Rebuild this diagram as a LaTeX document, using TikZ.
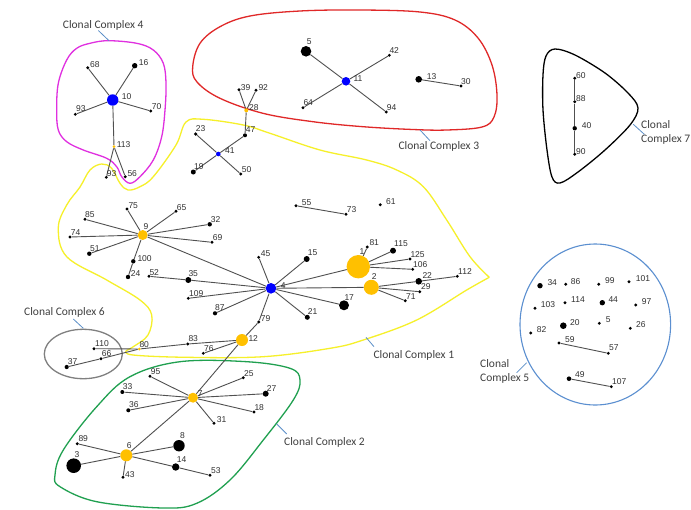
\documentclass[tikz,border=0pt]{standalone}
\usepackage{fontspec}
\setmainfont{Liberation Sans}
\newfontfamily\ccfont{Carlito}
\definecolor{orng}{HTML}{FFC000}
\definecolor{blu}{HTML}{0000FF}
\definecolor{edgec}{HTML}{505050}
\definecolor{numc}{HTML}{303030}
\definecolor{magc}{HTML}{E030E0}
\definecolor{redc}{HTML}{E02828}
\definecolor{yelc}{HTML}{F6F02A}
\definecolor{grnc}{HTML}{20A050}
\definecolor{grayc}{HTML}{808080}
\definecolor{cc5c}{HTML}{5B8FD0}
\definecolor{leadc}{HTML}{5B8FC8}
\definecolor{ccc}{HTML}{404040}
\newcommand\dotnode[5]{\node[dotst, minimum size=#4pt, fill=#5] (n#1) at (#2,#3) {};}
\newcommand\numlab[4]{\node[numst] (l#1) at (#2,#3) {#4};}
\tikzset{
  dotst/.style={circle, inner sep=0pt, draw=none},
  numst/.style={anchor=base west, inner sep=0pt, font=\fontsize{8.5}{10}\selectfont, text=numc},
  edgest/.style={draw=edgec, line width=0.9pt},
  ccst/.style={anchor=base west, inner sep=0pt, font=\ccfont\fontsize{11.5}{14}\selectfont, text=ccc, align=left},
  leadst/.style={draw=leadc, line width=0.8pt},
  hull/.style={line width=1.3pt}
}
\begin{document}
\begin{tikzpicture}[x=1pt,y=-1pt]
\path[use as bounding box, fill=white] (0,0) rectangle (691,509);
% ---- hulls ----
\draw[hull, magc] plot[smooth cycle, tension=0.6] coordinates {(90,43.3) (108.3,40.7) (136.7,43.3) (153.3,50) (163.3,63.3) (166,83.3) (165,110) (161.7,136.7) (153.3,160) (140,176.7) (130,183.3) (121.7,176.7) (116.7,166.7) (106.7,158.3) (83.3,150) (66.7,141.7) (58.3,130) (56.7,110) (58.3,83.3) (66.7,60) (76.7,48.3)};
\draw[hull, redc] plot[smooth cycle, tension=0.6] coordinates {(192.7,66.7) (200,43.3) (220,26.7) (250,16) (300,11) (360,10) (420,12) (455,20) (478,38) (492,65) (497,95) (494,117) (482,127) (447,130) (413,129.5) (363,126.7) (313,121.7) (263,113.3) (220,98.3) (197,82)};
\draw[hull, yelc] plot[smooth, tension=0.6] coordinates {(489.3,277.3) (470,256.7) (446.7,220) (423.3,186.7) (396.7,170) (366.7,160) (320,150) (270,133.3) (243.3,125) (203.3,119.3) (186,122) (176,145) (153.3,176.7) (140,186.7) (128,190) (120,183.3) (111.7,168.3) (101.7,164) (90,170) (80,187) (66.7,205) (58.3,228) (66.7,256.7) (106.7,280) (140,300) (151.7,315) (148,335) (133.3,346.7) (126,350.7)};
\draw[hull, yelc] plot[smooth, tension=0.6] coordinates {(126,350.7) (133,355) (186.7,357.3) (263.3,356.7) (330,348.3) (363.3,340) (416.7,320) (466.7,290) (489.3,277.3)};
\draw[hull, grnc] plot[smooth cycle, tension=0.6] coordinates {(55,475) (63.3,450) (96.7,406.7) (130,376.7) (180,361.7) (246.7,361.7) (290,368.3) (300,380) (293.3,400) (263.3,440) (230,480) (196.7,503.3) (163.3,508) (96.7,501.7) (60,486.7)};
\draw[hull, black] plot[smooth cycle, tension=0.55] coordinates {(546,56) (555,49) (575,55) (605,73) (628,93) (638,108) (630,125) (605,150) (578,172) (560,183) (552,177) (547,150) (543,110) (543,75)};
\draw[hull, grayc] (83.3,354) ellipse [x radius=39, y radius=24.7];
\draw[hull, cc5c, line width=1.1pt] (595.3,324.5) ellipse [x radius=75.3, y radius=80.5];
% ---- CC labels and leaders ----
\node[ccst] (cc4) at (62.7,28.3) {Clonal Complex 4};
\coordinate (cc4a) at (98.3,30.5); \coordinate (cc4b) at (109,40.7);
\draw[leadst] (cc4a) -- (cc4b);
\node[ccst] (cc3) at (398.3,149.3) {Clonal Complex 3};
\coordinate (cc3a) at (420,130); \coordinate (cc3b) at (430,140.7);
\draw[leadst] (cc3a) -- (cc3b);
\node[ccst] (cc7) at (641,142.3) {Clonal\\[-0.5pt]Complex 7};
\coordinate (cc7a) at (633.3,124.3); \coordinate (cc7b) at (644.3,134.3);
\draw[leadst] (cc7a) -- (cc7b);
\node[ccst] (cc1) at (373.3,358.3) {Clonal Complex 1};
\coordinate (cc1a) at (366,337.3); \coordinate (cc1b) at (374,346.7);
\draw[leadst] (cc1a) -- (cc1b);
\node[ccst] (cc6) at (24,315) {Clonal Complex 6};
\coordinate (cc6a) at (73.3,319); \coordinate (cc6b) at (83.3,328.3);
\draw[leadst] (cc6a) -- (cc6b);
\node[ccst] (cc2) at (284,445) {Clonal Complex 2};
\coordinate (cc2a) at (276.7,424); \coordinate (cc2b) at (286.7,434);
\draw[leadst] (cc2a) -- (cc2b);
\node[ccst] (cc5) at (480,381.7) {Clonal\\[0.5pt]Complex 5};
\coordinate (cc5a) at (526.7,362.7); \coordinate (cc5b) at (516.7,372.7);
\draw[leadst] (cc5a) -- (cc5b);
% ---- dots ----
% CC4
\dotnode{10}{112.7}{100}{11.4}{blu}
\dotnode{68}{87.7}{67.7}{3.2}{black}
\dotnode{16}{134.7}{65.7}{5.4}{black}
\dotnode{93a}{75.3}{114.3}{3.2}{black}
\dotnode{70}{150.7}{111}{3.2}{black}
\dotnode{113}{114}{146.7}{3}{orng}
\dotnode{93b}{106.3}{177.3}{3.2}{black}
\dotnode{56}{125.3}{176.7}{3.2}{black}
% CC3
\dotnode{5a}{306}{51.3}{10.6}{black}
\dotnode{11}{346}{81.3}{8.6}{blu}
\dotnode{42}{389.3}{55.3}{3.2}{black}
\dotnode{64}{303}{107.7}{3.2}{black}
\dotnode{94}{386.3}{112}{3.2}{black}
\dotnode{13}{418.7}{79.3}{6.6}{black}
\dotnode{30}{461}{86}{3.2}{black}
\dotnode{39}{239}{89.7}{3.2}{black}
\dotnode{92}{256}{90.3}{3.2}{black}
\dotnode{28}{246.3}{110.3}{4}{orng}
\dotnode{47}{245}{135.3}{4}{black}
\dotnode{23}{195.7}{134}{3.6}{black}
\dotnode{41}{218.3}{154}{4.6}{blu}
\dotnode{19}{193.3}{172}{5}{black}
\dotnode{50}{240.7}{174}{3.2}{black}
% CC7
\dotnode{60}{574.7}{78.3}{3.2}{black}
\dotnode{88}{574.7}{101.7}{3.2}{black}
\dotnode{40}{574.7}{128.3}{4.4}{black}
\dotnode{90}{574.7}{154.3}{3.2}{black}
% CC1
\dotnode{9}{142.7}{235}{10}{orng}
\dotnode{75}{127}{209}{3.2}{black}
\dotnode{65}{176}{211.3}{3.2}{black}
\dotnode{85}{85}{219.3}{3.2}{black}
\dotnode{32}{209.7}{224.3}{4.4}{black}
\dotnode{74}{70}{237}{3.2}{black}
\dotnode{69}{212}{242.3}{3.2}{black}
\dotnode{51}{89.3}{253.7}{4.4}{black}
\dotnode{100}{133.3}{261.3}{4.4}{black}
\dotnode{24}{128}{277}{4.4}{black}
\dotnode{52}{149}{276.3}{3.2}{black}
\dotnode{35}{188.3}{280}{6}{black}
\dotnode{109}{188.3}{298.3}{3.2}{black}
\dotnode{87}{215}{313.3}{4.2}{black}
\dotnode{4}{271}{288.3}{10.6}{blu}
\dotnode{45}{258.7}{257.3}{3.2}{black}
\dotnode{15}{306.7}{259}{6}{black}
\dotnode{1}{358.3}{266.7}{23.4}{orng}
\dotnode{81}{367.3}{247}{3.2}{black}
\dotnode{115}{393}{250.7}{6}{black}
\dotnode{125}{410}{259}{3.2}{black}
\dotnode{106}{412.7}{269.3}{3.2}{black}
\dotnode{2}{371.3}{287.3}{15}{orng}
\dotnode{22}{418.7}{281.3}{6.6}{black}
\dotnode{112}{457.3}{276.3}{3.2}{black}
\dotnode{29}{419.7}{291.7}{3.2}{black}
\dotnode{71}{405.3}{300.7}{3.2}{black}
\dotnode{17}{344}{305.3}{10}{black}
\dotnode{21}{307.3}{317.3}{5}{black}
\dotnode{79}{258.7}{322}{3.2}{black}
\dotnode{12}{242}{340}{12}{orng}
\dotnode{55}{296}{205.7}{3.2}{black}
\dotnode{73}{346}{214.3}{3.2}{black}
\dotnode{61}{380.3}{204.7}{3.2}{black}
\dotnode{83}{187.7}{344}{3.2}{black}
\dotnode{76}{203.3}{353.3}{3.2}{black}
\dotnode{80}{139.3}{349}{3}{orng}
% CC6
\dotnode{110}{94}{348.7}{3.2}{black}
\dotnode{66}{101}{358.7}{3.2}{black}
\dotnode{37}{66.7}{367}{4.2}{black}
% CC2
\dotnode{7}{193}{397.7}{10}{orng}
\dotnode{95}{150}{376.3}{3.2}{black}
\dotnode{33}{122.3}{392}{4}{black}
\dotnode{36}{128.3}{410.3}{4}{black}
\dotnode{25}{243.3}{377.7}{3.2}{black}
\dotnode{27}{265.7}{393.7}{6}{black}
\dotnode{18}{254}{412}{3.2}{black}
\dotnode{31}{214}{423.3}{3.2}{black}
\dotnode{6}{126.3}{455.3}{12}{orng}
\dotnode{89}{77.3}{443.7}{3.2}{black}
\dotnode{3}{73.7}{465.7}{14.6}{black}
\dotnode{8}{179}{445.7}{11.4}{black}
\dotnode{14}{175.7}{467}{7.4}{black}
\dotnode{43}{123}{477.3}{3.2}{black}
\dotnode{53}{210}{475.3}{3.2}{black}
% CC5
\dotnode{34}{540}{285.7}{5.4}{black}
\dotnode{86}{565.7}{284.3}{3.2}{black}
\dotnode{99}{598.7}{284.3}{3.2}{black}
\dotnode{101}{629}{281.7}{3.2}{black}
\dotnode{103}{535}{308.3}{3.2}{black}
\dotnode{114}{565}{302.7}{3.2}{black}
\dotnode{44}{602.3}{302.7}{5.4}{black}
\dotnode{97}{635.7}{305}{3.2}{black}
\dotnode{82}{530.7}{333}{3.2}{black}
\dotnode{20}{563.3}{325.7}{6.6}{black}
\dotnode{5b}{599.3}{323.3}{3.2}{black}
\dotnode{26}{630.3}{328.3}{3.2}{black}
\dotnode{59}{559}{343}{3.2}{black}
\dotnode{57}{608.3}{353.3}{3.2}{black}
\dotnode{49}{569}{378.7}{4.6}{black}
\dotnode{107}{611.3}{386.7}{3.2}{black}
% ---- edges ----
\foreach \a/\b in {10/68,10/16,10/93a,10/70,10/113,113/93b,113/56,
  11/5a,11/42,11/64,11/94,13/30,28/39,28/92,28/47,47/41,41/23,41/19,41/50,
  60/88,88/40,40/90,
  9/75,9/65,9/85,9/32,9/74,9/69,9/51,9/100,100/24,9/4,52/35,35/4,109/4,87/4,
  4/45,4/15,4/1,4/2,4/17,4/21,4/79,79/12,1/81,1/115,1/125,1/106,2/22,22/112,2/29,2/71,55/73,
  12/83,83/80,80/110,80/66,66/37,12/76,12/7,
  7/95,7/33,7/36,7/25,7/27,7/18,7/31,7/6,6/89,6/3,6/8,6/14,14/53,6/43,
  59/57,49/107}
  \draw[edgest] (n\a) -- (n\b);
% ---- number labels ----
\numlab{10}{121.7}{99.3}{10}
\numlab{68}{90}{67.3}{68}
\numlab{16}{138.7}{65.7}{16}
\numlab{93a}{76}{111.7}{93}
\numlab{70}{151.7}{109}{70}
\numlab{113}{116.7}{147.3}{113}
\numlab{93b}{106.7}{176.7}{93}
\numlab{56}{127.3}{176.7}{56}
\numlab{5a}{306.7}{44.3}{5}
\numlab{42}{389.3}{53.3}{42}
\numlab{11}{353.3}{81.7}{11}
\numlab{64}{303.3}{105.7}{64}
\numlab{94}{386.7}{110}{94}
\numlab{13}{426.7}{79.3}{13}
\numlab{30}{461}{84}{30}
\numlab{39}{240.7}{90}{39}
\numlab{92}{258.3}{90.3}{92}
\numlab{28}{249}{110.7}{28}
\numlab{47}{245.7}{132.7}{47}
\numlab{23}{195.7}{131.7}{23}
\numlab{41}{225}{153.3}{41}
\numlab{19}{194}{169}{19}
\numlab{50}{241.7}{172.3}{50}
\numlab{60}{576}{78.3}{60}
\numlab{88}{576}{101.7}{88}
\numlab{40}{581.7}{128.3}{40}
\numlab{90}{576}{154.3}{90}
\numlab{75}{128.3}{208.3}{75}
\numlab{65}{176.7}{210}{65}
\numlab{85}{85}{217.3}{85}
\numlab{32}{210.7}{222.3}{32}
\numlab{74}{70.7}{235}{74}
\numlab{9}{143.3}{229.3}{9}
\numlab{69}{212.7}{240.7}{69}
\numlab{51}{90}{251}{51}
\numlab{100}{137.3}{261.7}{100}
\numlab{24}{130.7}{276.3}{24}
\numlab{52}{149.3}{275}{52}
\numlab{35}{188.3}{276}{35}
\numlab{109}{189}{296.7}{109}
\numlab{87}{215}{310.7}{87}
\numlab{55}{301.7}{205.7}{55}
\numlab{73}{346.7}{212.3}{73}
\numlab{61}{386}{204.3}{61}
\numlab{45}{260.7}{256.7}{45}
\numlab{15}{307.7}{255.7}{15}
\numlab{4}{280.7}{288.3}{4}
\numlab{1}{359.3}{254}{1}
\numlab{81}{369.3}{245.7}{81}
\numlab{115}{394}{246.7}{115}
\numlab{125}{410.3}{257.3}{125}
\numlab{106}{413}{267.3}{106}
\numlab{2}{371.7}{279}{2}
\numlab{22}{422.3}{278.3}{22}
\numlab{112}{458}{274}{112}
\numlab{29}{421}{289.3}{29}
\numlab{71}{406}{299.3}{71}
\numlab{17}{344.3}{300}{17}
\numlab{21}{307.7}{314}{21}
\numlab{79}{260.7}{321.7}{79}
\numlab{12}{248.3}{341.7}{12}
\numlab{110}{95}{346.7}{110}
\numlab{66}{101.7}{356.7}{66}
\numlab{37}{67.7}{364}{37}
\numlab{80}{139.3}{347}{80}
\numlab{83}{188.3}{341.7}{83}
\numlab{76}{204}{351.7}{76}
\numlab{95}{150.7}{374}{95}
\numlab{33}{122.7}{389.3}{33}
\numlab{36}{129}{407.3}{36}
\numlab{7}{197.7}{396.7}{7}
\numlab{25}{244}{376}{25}
\numlab{27}{266.7}{391}{27}
\numlab{18}{254.3}{410}{18}
\numlab{31}{216.7}{422.7}{31}
\numlab{89}{78.3}{441.7}{89}
\numlab{8}{180}{438.3}{8}
\numlab{6}{126.7}{448.3}{6}
\numlab{3}{74.3}{457.3}{3}
\numlab{14}{176.7}{462.7}{14}
\numlab{43}{125}{477.3}{43}
\numlab{53}{211}{473.3}{53}
\numlab{34}{547.3}{285}{34}
\numlab{86}{570.7}{284}{86}
\numlab{99}{605}{283.3}{99}
\numlab{101}{635.7}{281}{101}
\numlab{103}{540.7}{307.7}{103}
\numlab{114}{571}{302}{114}
\numlab{44}{608.3}{302}{44}
\numlab{97}{641.7}{304.3}{97}
\numlab{82}{536.7}{332.3}{82}
\numlab{20}{570}{325}{20}
\numlab{5b}{605.7}{322.7}{5}
\numlab{26}{636}{327.7}{26}
\numlab{59}{565}{342.7}{59}
\numlab{57}{609}{350.7}{57}
\numlab{49}{575}{377.7}{49}
\numlab{107}{612}{384}{107}
\end{tikzpicture}
\end{document}
